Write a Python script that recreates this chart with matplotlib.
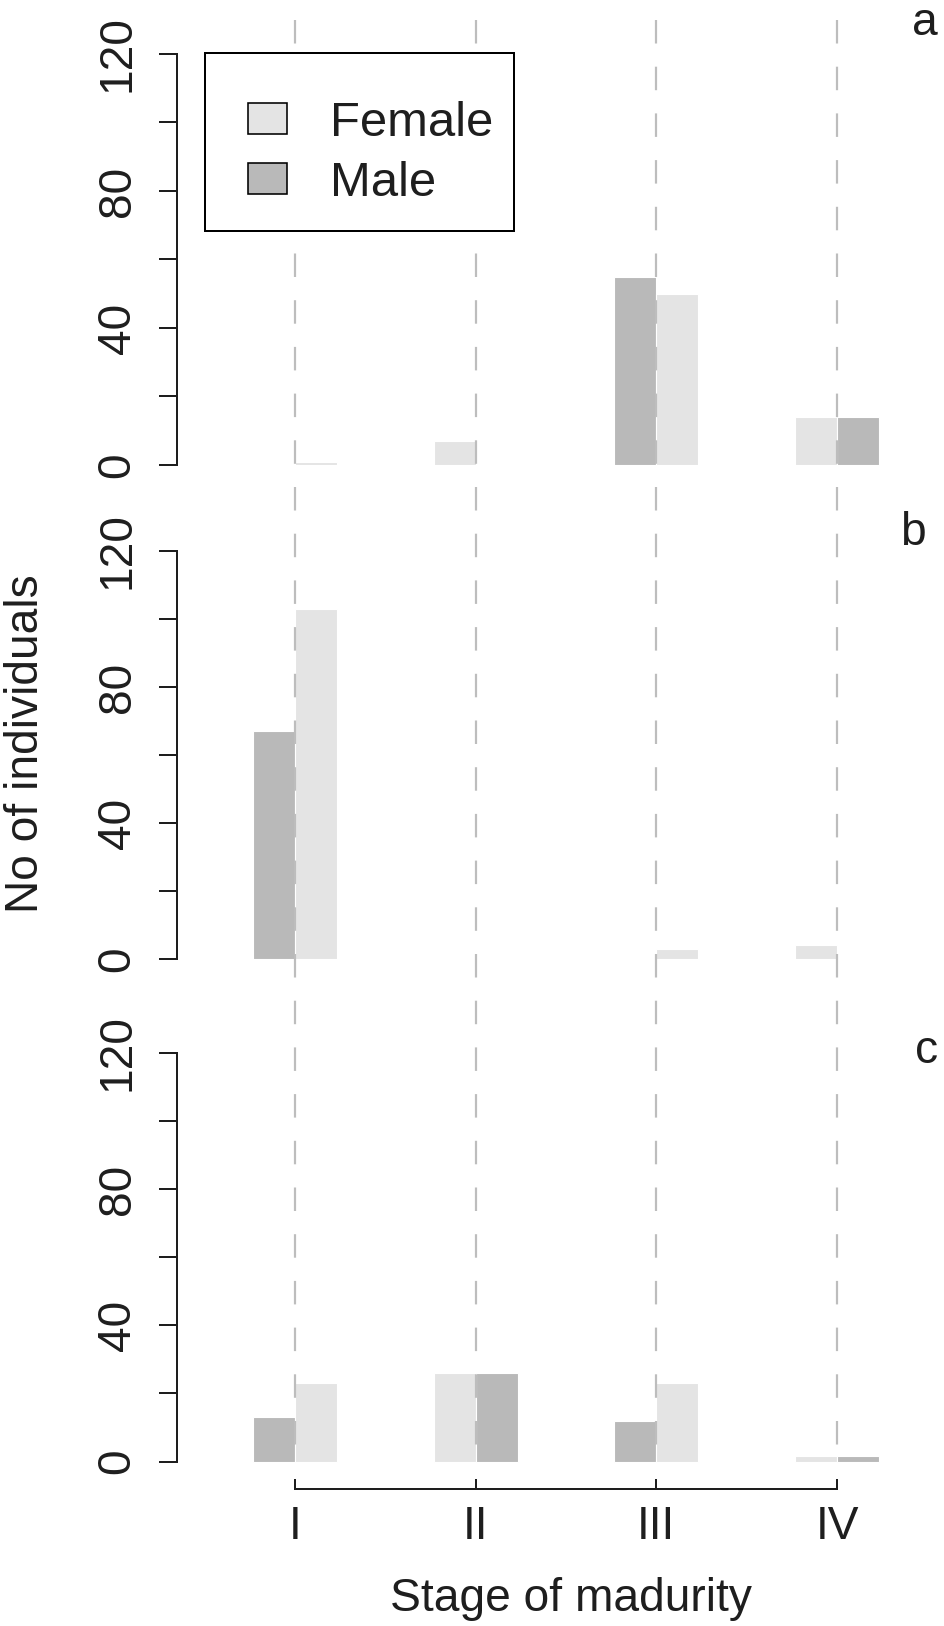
import matplotlib
matplotlib.use("Agg")
import matplotlib.pyplot as plt
from matplotlib.patches import Patch, Rectangle

plt.rcParams['font.family'] = ['Liberation Sans', 'DejaVu Sans']
plt.rcParams['lines.scale_dashes'] = False

# ---------------- data ----------------
stages = ["I", "II", "III", "IV"]
stage_pos = [1, 2, 3, 4]
panels = ["a", "b", "c"]
female_a = [1, 7, 50, 14]
male_a = [0, 0, 55, 14]
female_b = [103, 0, 3, 4]
male_b = [67, 0, 0, 0]
female_c = [23, 26, 23, 1.5]
male_c = [13, 26, 12, 1.5]
# which sex is drawn left of the stage line
left_sex = ["Male", "Female", "Male", "Female"]
yticks = [0, 20, 40, 60, 80, 100, 120]
ylabels_shown = [0, 40, 80, 120]

female_all = [female_a, female_b, female_c]
male_all = [male_a, male_b, male_c]

# ---------------- style ----------------
W, H = 944, 1626
DPI = 100
FS = 33.2
LFS = 35.3
FEMALE_COL = "#E4E4E4"
MALE_COL = "#B9B9B9"
DASH_COL = "#BDBDBD"
TXT = '#1e1e1e'
PX = 0.72  # points per pixel at 100 dpi

fig = plt.figure(figsize=(W / DPI, H / DPI), dpi=DPI)

left_px, right_px = 177, 910
stage_px = 295.0
step_px = 180.67
xlo = 1 - (stage_px - left_px) / step_px
xhi = 1 + (right_px - stage_px) / step_px
bw = 0.233

# (y of 120, y of 0, bottom of axes) in pixels
geo = [(54, 465, 465), (551, 959, 959), (1053, 1461.5, 1489)]

def fx(px):
    return px / W

def fy(py):
    return 1 - py / H

axes = []
for i, (y120, y0, ybot) in enumerate(geo):
    ppu = (y0 - y120) / 120.0
    lo = -(ybot - y0) / ppu
    ax = fig.add_axes([fx(left_px), fy(ybot), fx(right_px) - fx(left_px), (ybot - y120) / H])
    ax.set_xlim(xlo, xhi)
    ax.set_ylim(lo, 120)
    ax.patch.set_alpha(0)
    fem, mal = female_all[i], male_all[i]
    for j, xp in enumerate(stage_pos):
        if left_sex[j] == "Male":
            lv, lc, rv, rc = mal[j], MALE_COL, fem[j], FEMALE_COL
        else:
            lv, lc, rv, rc = fem[j], FEMALE_COL, mal[j], MALE_COL
        if lv > 0:
            ax.bar(xp, lv, width=-bw, align='edge', color=lc, edgecolor='white', linewidth=0.8)
        if rv > 0:
            ax.bar(xp, rv, width=bw, align='edge', color=rc, edgecolor='white', linewidth=0.8)
    for s in ["top", "right"]:
        ax.spines[s].set_visible(False)
    ax.spines["left"].set_bounds(0, 120)
    ax.spines["left"].set_linewidth(2 * PX)
    ax.spines["left"].set_color(TXT)
    ax.set_yticks(yticks)
    ax.set_yticklabels([str(t) if t in ylabels_shown else "" for t in yticks],
                       rotation=90, va='center', fontsize=FS)
    ax.tick_params(axis='y', length=18 * PX, width=2 * PX, pad=14, colors=TXT)
    if i < 2:
        ax.spines["bottom"].set_visible(False)
        ax.set_xticks([])
    else:
        ax.spines["bottom"].set_bounds(1, 4)
        ax.spines["bottom"].set_linewidth(2 * PX)
        ax.spines["bottom"].set_color(TXT)
        ax.set_xticks(stage_pos)
        ax.set_xticklabels(stages, fontsize=FS)
        ax.tick_params(axis='x', direction='in', length=10 * PX, width=2 * PX,
                       pad=11.5, colors=TXT)
    axes.append(ax)

# overlay for dashed stage lines (drawn from the top downwards)
top_px, bot_px = 20, 1463
ov = fig.add_axes([fx(left_px), fy(bot_px), fx(right_px) - fx(left_px), (bot_px - top_px) / H])
ov.set_xlim(xlo, xhi)
ov.set_ylim(0, 1)
ov.axis('off')
ov.patch.set_alpha(0)
for xp in stage_pos:
    ov.vlines(xp, 1, 0, colors=DASH_COL, linewidth=2.2 * PX,
              linestyles=[(0, (23.5 * PX, 23.2 * PX))])

# legend frame (white box covering the dashed lines)
frame = Rectangle((fx(205), fy(231)), fx(514) - fx(205), (231 - 53) / H,
                  transform=fig.transFigure, facecolor='white', edgecolor='black',
                  linewidth=2 * PX, zorder=4)
fig.patches.append(frame)

handles = [Patch(facecolor=FEMALE_COL, edgecolor='black', linewidth=1.6 * PX, label="Female"),
           Patch(facecolor=MALE_COL, edgecolor='black', linewidth=1.6 * PX, label="Male")]
leg = fig.legend(handles=handles, loc='upper left', bbox_to_anchor=(fx(247.5), fy(101)),
                 borderaxespad=0, fontsize=LFS, frameon=False, borderpad=0,
                 labelspacing=0.31, handlelength=0.8, handleheight=0.59,
                 handletextpad=0.88)
leg.set_zorder(6)
for t in leg.get_texts():
    t.set_color(TXT)

# labels
fig.text(fx(26), fy(744), "No of individuals", rotation=90, ha='center', va='center',
         fontsize=FS, color=TXT)
fig.text(fx(571), fy(1611), "Stage of madurity", ha='center', va='baseline',
         fontsize=FS, color=TXT)
letter_pos = [(925, 35), (912.5, 545), (926.5, 1063)]
for lab, (px_, py_) in zip(panels, letter_pos):
    fig.text(fx(px_), fy(py_), lab, ha='center', va='baseline', fontsize=FS, color=TXT)

fig.savefig("out.png", dpi=DPI, facecolor='white')
